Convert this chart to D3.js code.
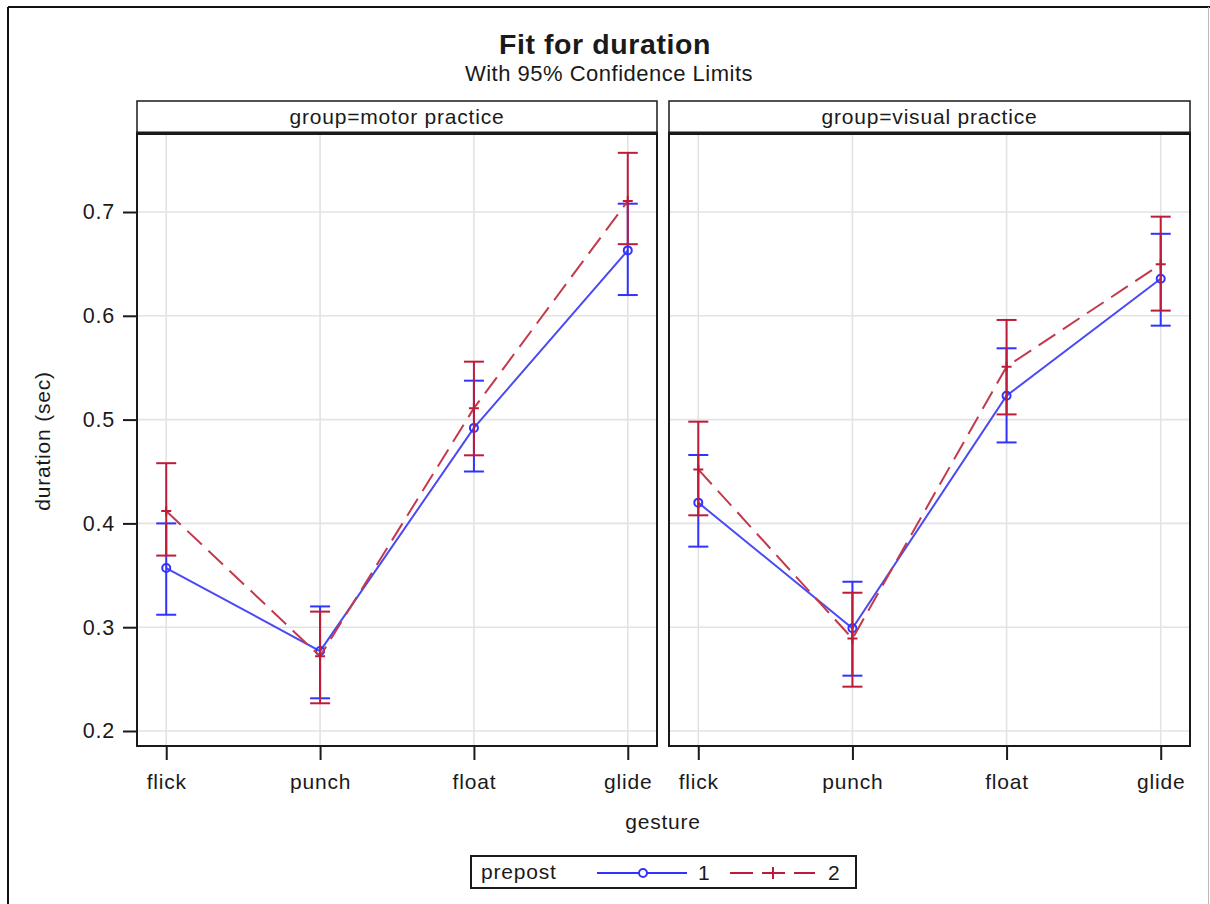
<!DOCTYPE html>
<html>
<head>
<meta charset="utf-8">
<script src="https://cdn.jsdelivr.net/npm/d3@7"></script>
<style>
  html, body { margin: 0; padding: 0; background: #fff; }
  svg { display: block; }
  text { font-family: "Liberation Sans", Arial, sans-serif; fill: #1a1a1a; }
</style>
</head>
<body>
<svg id="chart" width="1210" height="904"></svg>
<script>
// ---------------- data ----------------
const categories = ["flick", "punch", "float", "glide"];
const groups = ["motor practice", "visual practice"];
const prepostLevels = ["1", "2"];
const yTicks = [0.2, 0.3, 0.4, 0.5, 0.6, 0.7];
const yTickLabels = ["0.2", "0.3", "0.4", "0.5", "0.6", "0.7"];

// group = motor practice
const motorPre      = [0.357, 0.277, 0.492, 0.663];
const motorPreLower = [0.312, 0.2315, 0.450, 0.620];
const motorPreUpper = [0.400, 0.320, 0.5375, 0.708];
const motorPost      = [0.412, 0.272, 0.511, 0.7106];
const motorPostLower = [0.369, 0.2267, 0.4656, 0.669];
const motorPostUpper = [0.458, 0.315, 0.5558, 0.757];

// group = visual practice
const visualPre      = [0.420, 0.299, 0.523, 0.6357];
const visualPreLower = [0.3776, 0.2533, 0.478, 0.5905];
const visualPreUpper = [0.4659, 0.3438, 0.5687, 0.679];
const visualPost      = [0.452, 0.289, 0.551, 0.6496];
const visualPostLower = [0.4078, 0.2427, 0.505, 0.605];
const visualPostUpper = [0.498, 0.3332, 0.596, 0.6955];

const panelData = [
  { group: groups[0], series: [
      { level: prepostLevels[0], mean: motorPre, lower: motorPreLower, upper: motorPreUpper },
      { level: prepostLevels[1], mean: motorPost, lower: motorPostLower, upper: motorPostUpper } ] },
  { group: groups[1], series: [
      { level: prepostLevels[0], mean: visualPre, lower: visualPreLower, upper: visualPreUpper },
      { level: prepostLevels[1], mean: visualPost, lower: visualPostLower, upper: visualPostUpper } ] }
];

// ---------------- layout ----------------
const svg = d3.select("#chart");
const BLUE = "#3232ff", BLUE_LINE = "#4a4af5";
const RED = "#bd1c38", RED_LINE = "#c23a4c";
const GRID = "#e3e3e3";
const panels = [{ x0: 137, x1: 657 }, { x0: 669, x1: 1190 }];
const stripTop = 101, plotTop = 134, plotBottom = 746;
const LS = "0.8px";
const FS = "21px";

const y = d3.scaleLinear().domain([0.18555, 0.77514]).range([plotBottom, plotTop]);

// outer border
svg.append("line").attr("x1", 8).attr("x2", 8).attr("y1", 7).attr("y2", 904).attr("stroke", "#111").attr("stroke-width", 2);
svg.append("line").attr("x1", 8).attr("x2", 1210).attr("y1", 7).attr("y2", 7).attr("stroke", "#111").attr("stroke-width", 2);
svg.append("line").attr("x1", 1208.5).attr("x2", 1208.5).attr("y1", 7).attr("y2", 904).attr("stroke", "#bbb").attr("stroke-width", 1);

// titles
svg.append("text").attr("x", 605).attr("y", 54).attr("text-anchor", "middle")
  .style("font-size", "28.5px").style("font-weight", "bold").style("letter-spacing", "0.6px")
  .text("Fit for duration");
svg.append("text").attr("x", 609).attr("y", 81).attr("text-anchor", "middle")
  .style("font-size", "22px").style("letter-spacing", "0.5px")
  .text("With 95% Confidence Limits");

panelData.forEach((pd, pi) => {
  const P = panels[pi];
  const x = d3.scalePoint().domain(categories).range([P.x0, P.x1]).padding(0.19);
  const g = svg.append("g");

  // grid
  g.selectAll(".hg").data(yTicks).join("line")
    .attr("x1", P.x0).attr("x2", P.x1).attr("y1", d => y(d)).attr("y2", d => y(d))
    .attr("stroke", GRID).attr("stroke-width", 1.6);
  g.selectAll(".vg").data(categories).join("line")
    .attr("x1", d => x(d)).attr("x2", d => x(d)).attr("y1", plotTop).attr("y2", plotBottom)
    .attr("stroke", GRID).attr("stroke-width", 1.6);

  // x axis
  const xAxis = d3.axisBottom(x).tickSize(14).tickPadding(14);
  const xa = g.append("g").attr("transform", `translate(0,${plotBottom})`).call(xAxis);
  xa.select(".domain").remove();
  xa.selectAll(".tick line").attr("stroke", "#1a1a1a").attr("stroke-width", 2);
  xa.selectAll(".tick text").attr("fill", "#1a1a1a").style("font-size", FS)
    .style("letter-spacing", LS).style("font-family", "Liberation Sans, Arial, sans-serif")
    .attr("dy", null).attr("y", 43);

  // y axis (left panel only)
  if (pi === 0) {
    const yAxis = d3.axisLeft(y).tickValues(yTicks).tickFormat((d, i) => yTickLabels[i]).tickSize(14).tickPadding(8);
    const ya = g.append("g").attr("transform", `translate(${P.x0},0)`).call(yAxis);
    ya.select(".domain").remove();
    ya.selectAll(".tick line").attr("stroke", "#1a1a1a").attr("stroke-width", 2);
    ya.selectAll(".tick text").attr("fill", "#1a1a1a").style("font-size", "21.5px")
      .style("letter-spacing", LS).style("font-family", "Liberation Sans, Arial, sans-serif");
  }

  // series
  pd.series.forEach((s, si) => {
    const col = si === 0 ? BLUE : RED;
    const lcol = si === 0 ? BLUE_LINE : RED_LINE;
    const pts = categories.map((c, i) => ({ c, m: s.mean[i], lo: s.lower[i], hi: s.upper[i] }));
    g.append("path").datum(pts)
      .attr("d", d3.line().x(d => x(d.c)).y(d => y(d.m)))
      .attr("fill", "none").attr("stroke", lcol).attr("stroke-width", 2)
      .attr("stroke-dasharray", si === 0 ? null : "20,9");
    // error bars
    const eb = g.append("g").attr("stroke", col).attr("stroke-width", 2).attr("fill", "none");
    eb.selectAll(".v").data(pts).join("line")
      .attr("x1", d => x(d.c)).attr("x2", d => x(d.c)).attr("y1", d => y(d.lo)).attr("y2", d => y(d.hi));
    eb.selectAll(".cl").data(pts).join("line")
      .attr("x1", d => x(d.c) - 10).attr("x2", d => x(d.c) + 10).attr("y1", d => y(d.lo)).attr("y2", d => y(d.lo));
    eb.selectAll(".ch").data(pts).join("line")
      .attr("x1", d => x(d.c) - 10).attr("x2", d => x(d.c) + 10).attr("y1", d => y(d.hi)).attr("y2", d => y(d.hi));
    // markers
    if (si === 0) {
      g.selectAll(null).data(pts).join("circle")
        .attr("cx", d => x(d.c)).attr("cy", d => y(d.m)).attr("r", 4)
        .attr("fill", "none").attr("stroke", BLUE).attr("stroke-width", 2);
    } else {
      g.selectAll(null).data(pts).join("path")
        .attr("d", d => `M${x(d.c) - 5},${y(d.m)}h10M${x(d.c)},${y(d.m) - 5}v10`)
        .attr("stroke", RED).attr("stroke-width", 2);
    }
  });

  // frame
  g.append("rect").attr("x", P.x0).attr("y", plotTop).attr("width", P.x1 - P.x0).attr("height", plotBottom - plotTop)
    .attr("fill", "none").attr("stroke", "#1a1a1a").attr("stroke-width", 2);
  // strip
  g.append("rect").attr("x", P.x0).attr("y", stripTop).attr("width", P.x1 - P.x0).attr("height", plotTop - stripTop)
    .attr("fill", "#fff").attr("stroke", "#1a1a1a").attr("stroke-width", 1.5);
  g.append("line").attr("x1", P.x0 - 0.75).attr("x2", P.x1 + 0.75).attr("y1", plotTop - 1).attr("y2", plotTop - 1)
    .attr("stroke", "#1a1a1a").attr("stroke-width", 3);
  g.append("text").attr("x", (P.x0 + P.x1) / 2).attr("y", 124).attr("text-anchor", "middle")
    .style("font-size", FS).style("letter-spacing", LS)
    .text("group=" + pd.group);
});

// axis labels
svg.append("text").attr("transform", "translate(50,441) rotate(-90)").attr("text-anchor", "middle")
  .style("font-size", FS).style("letter-spacing", LS).text("duration (sec)");
svg.append("text").attr("x", 663).attr("y", 829).attr("text-anchor", "middle")
  .style("font-size", FS).style("letter-spacing", LS).text("gesture");

// legend
const lg = svg.append("g");
lg.append("rect").attr("x", 471).attr("y", 856).attr("width", 385).attr("height", 32)
  .attr("fill", "#fff").attr("stroke", "#1a1a1a").attr("stroke-width", 2);
lg.append("text").attr("x", 481).attr("y", 879).style("font-size", FS).style("letter-spacing", LS).text("prepost");
lg.append("line").attr("x1", 597).attr("x2", 687).attr("y1", 873).attr("y2", 873).attr("stroke", BLUE).attr("stroke-width", 2);
lg.append("circle").attr("cx", 643).attr("cy", 873).attr("r", 4).attr("fill", "#fff").attr("stroke", BLUE).attr("stroke-width", 2);
lg.append("text").attr("x", 698).attr("y", 880).style("font-size", FS).text(prepostLevels[0]);
lg.append("line").attr("x1", 730).attr("x2", 815).attr("y1", 873).attr("y2", 873).attr("stroke", RED).attr("stroke-width", 2)
  .attr("stroke-dasharray", "23,9");
lg.append("path").attr("d", "M766,873h14M773,867v12").attr("stroke", RED).attr("stroke-width", 2);
lg.append("text").attr("x", 828).attr("y", 880).style("font-size", FS).text(prepostLevels[1]);
</script>
</body>
</html>
